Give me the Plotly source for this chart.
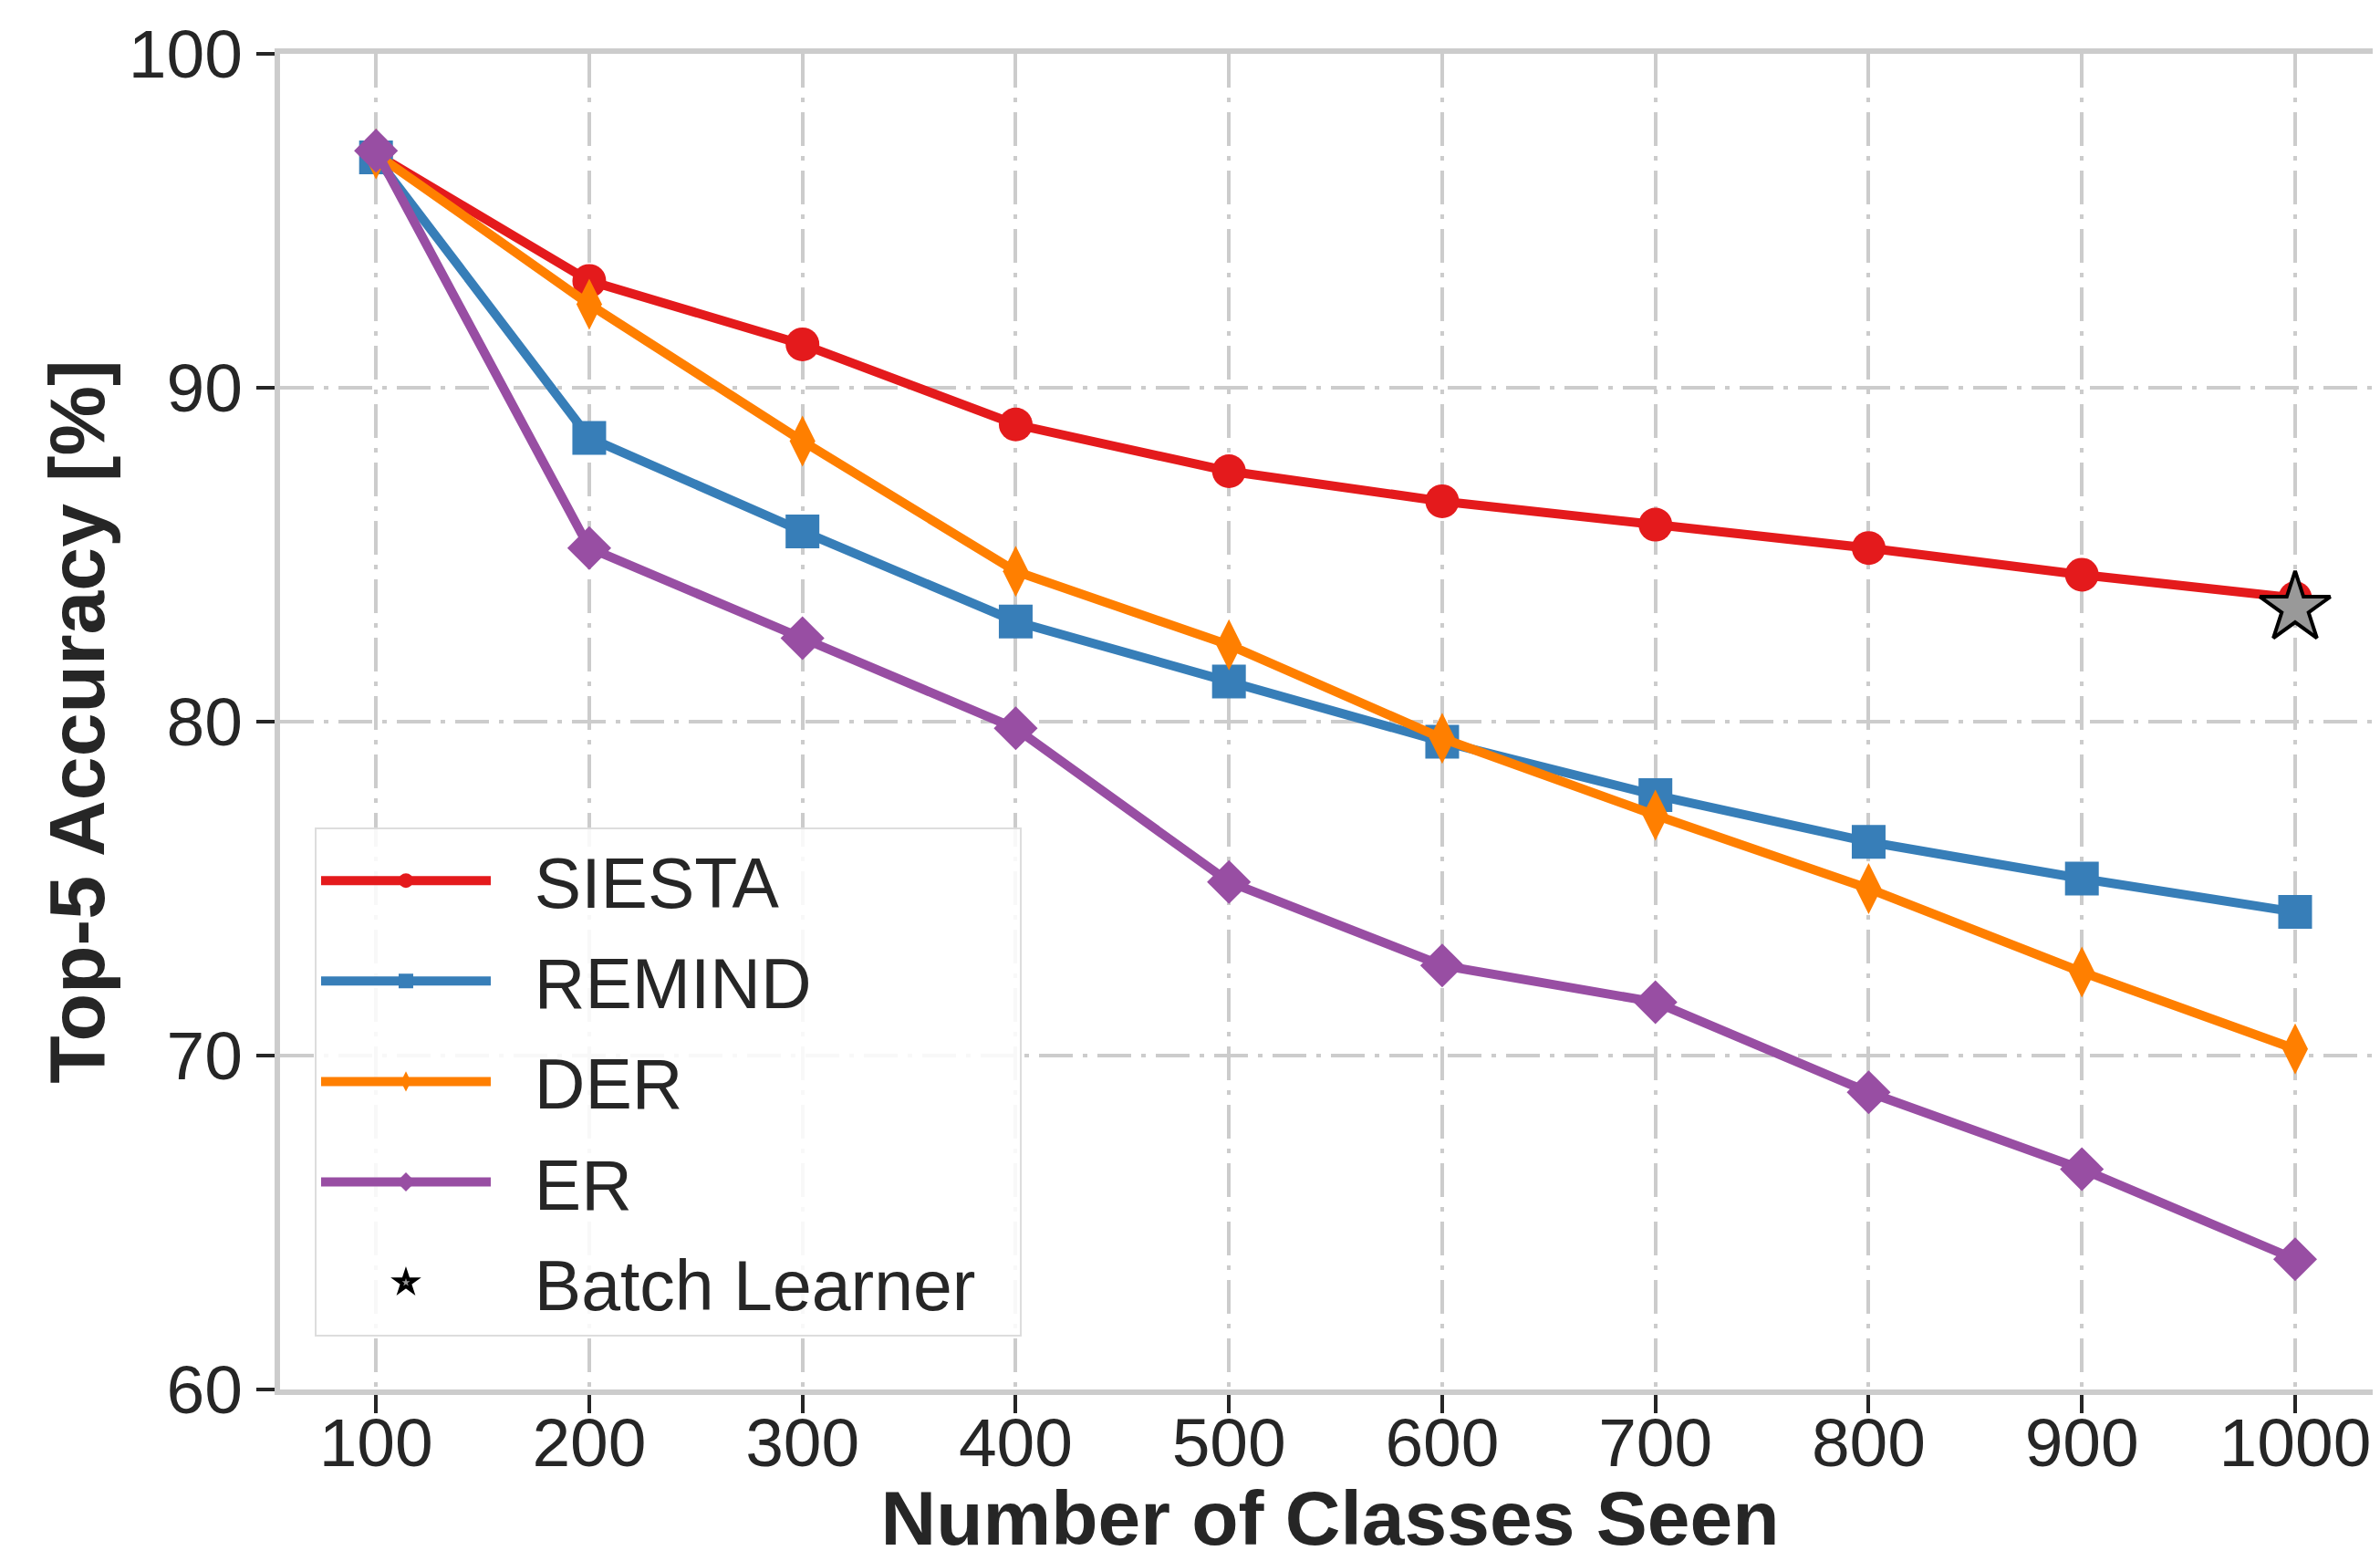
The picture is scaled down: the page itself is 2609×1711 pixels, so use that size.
import plotly.graph_objects as go

classes = [100, 200, 300, 400, 500, 600, 700, 800, 900, 1000]
siesta = [97.0, 93.2, 91.3, 88.9, 87.5, 86.6, 85.9, 85.2, 84.4, 83.7]
remind = [96.9, 88.5, 85.7, 83.0, 81.2, 79.4, 77.8, 76.4, 75.3, 74.3]
der = [97.0, 92.5, 88.4, 84.5, 82.3, 79.5, 77.2, 75.0, 72.5, 70.2]
er = [97.1, 85.2, 82.5, 79.8, 75.2, 72.7, 71.6, 68.9, 66.6, 63.9]
batch_x = [1000]
batch_y = [83.4]

x_ticks = [100, 200, 300, 400, 500, 600, 700, 800, 900, 1000]
y_ticks = [60, 70, 80, 90, 100]

FONT = "Liberation Sans, Arial, sans-serif"
TXT = "#262626"
GRID = "#cccccc"
NB = "\u00a0"

series = [
    ("SIESTA", siesta, "#e41a1c", "circle", 37),
    ("REMIND", remind, "#377eb8", "square", 37),
    ("DER", der, "#ff7f00", "diamond-tall", 40),
    ("ER", er, "#984ea3", "diamond", 37),
]

fig = go.Figure()
for name, vals, color, sym, sz in series:
    fig.add_trace(go.Scatter(
        x=classes, y=vals, name=NB * 2 + name, mode="lines+markers",
        legendgroup=name,
        line=dict(color=color, width=10),
        marker=dict(symbol=sym, size=sz, color=color, line=dict(width=0)),
        cliponaxis=False,
    ))

fig.add_trace(go.Scatter(
    x=batch_x, y=batch_y, name=NB * 2 + "Batch Learner" + NB * 2, mode="markers",
    legendgroup="batch",
    marker=dict(symbol="star", size=58, color="#999999",
                line=dict(color="black", width=4)),
    cliponaxis=False,
))

# page body has an 8px margin, so the figure is 8px smaller than the window
fig.update_layout(
    width=2601, height=1703,
    margin=dict(l=299, r=0, t=51, b=188, pad=0),
    paper_bgcolor="white", plot_bgcolor="white",
    font=dict(family=FONT, color=TXT, size=75),
    showlegend=True,
    legend=dict(
        x=0.0165, y=0.421, xanchor="left", yanchor="top",
        bgcolor="rgba(255,255,255,0.85)",
        bordercolor="#dddddd", borderwidth=2,
        font=dict(family=FONT, size=77, color=TXT),
        itemwidth=186,
        tracegroupgap=7,
    ),
)

common = dict(
    showline=True, linecolor=GRID, linewidth=6, mirror=True,
    ticks="outside", ticklen=20, tickwidth=3.5, tickcolor=TXT,
    tickfont=dict(size=75, color=TXT, family=FONT),
    showgrid=True, gridcolor=GRID, gridwidth=4, griddash="37px,11px,5px,11px",
    zeroline=False, automargin=False,
)

fig.update_xaxes(
    range=[55, 1039.8],
    tickvals=x_ticks, ticktext=[str(v) for v in x_ticks],
    ticklabelstandoff=-32,
    title=dict(text="<b>Number of Classes Seen</b>",
               font=dict(size=84, color=TXT, family=FONT), standoff=27),
    **common,
)
fig.update_yaxes(
    range=[60, 100],
    tickvals=y_ticks, ticktext=[str(v) for v in y_ticks],
    title=dict(text="<b>Top-5 Accuracy [%]</b>",
               font=dict(size=86, color=TXT, family=FONT), standoff=0),
    **common,
)

fig.write_html("out.html")
